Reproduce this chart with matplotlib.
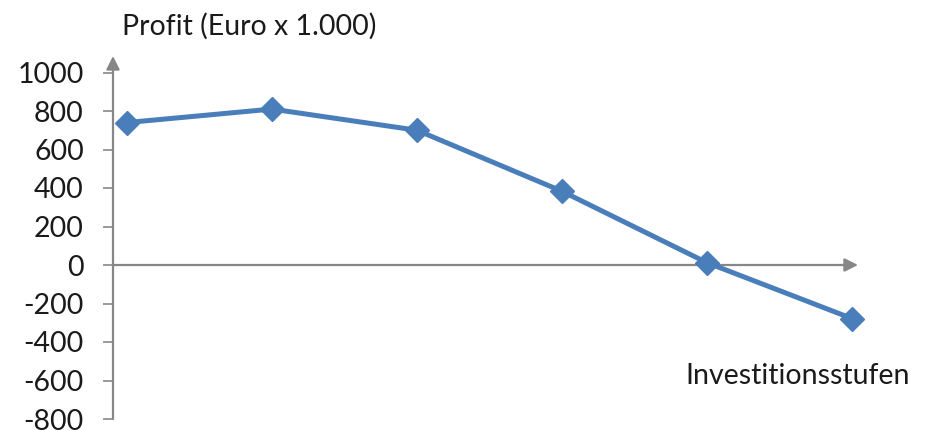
import matplotlib
matplotlib.use("Agg")
import matplotlib.pyplot as plt

# investment levels and profit in thousand euro
stufen = [1, 2, 3, 4, 5, 6]
profit = [740, 810, 700, 383, 12, -278]
yticks = [-800, -600, -400, -200, 0, 200, 400, 600, 800, 1000]

plt.rcParams['font.family'] = ['Lato', 'DejaVu Sans']

W, H = 929, 430
fig = plt.figure(figsize=(W / 100, H / 100), dpi=100)

# pixel frame of the axes
left_px, right_px, top_px, bot_px = 113, 880, 40, 425
ax = fig.add_axes([left_px / W, 1 - bot_px / H,
                   (right_px - left_px) / W, (bot_px - top_px) / H])

# data <-> pixel scale: x=1 at 127 px, 145 px per step; 0 at 265 px, 38.5 px per 200
def x_of(px):
    return 1 + (px - 127) / 145

def y_of(px):
    return (265 - px) / 38.5 * 200

ax.set_xlim(x_of(left_px), x_of(right_px))
ax.set_ylim(y_of(bot_px), y_of(top_px))

for s in ax.spines.values():
    s.set_visible(False)

grey = '#878787'
x0 = x_of(left_px)

# y axis with arrow
ax.annotate('', xy=(x0, y_of(56)), xytext=(x0, yticks[0]),
            arrowprops=dict(arrowstyle='-|>', color=grey, lw=1.6,
                            mutation_scale=20, shrinkA=0, shrinkB=0),
            annotation_clip=False)
# x axis with arrow at zero
ax.annotate('', xy=(x_of(858), 0), xytext=(x0, 0),
            arrowprops=dict(arrowstyle='-|>', color=grey, lw=1.6,
                            mutation_scale=20, shrinkA=0, shrinkB=0),
            annotation_clip=False)

ax.set_yticks(yticks)
ax.set_yticklabels([str(v) for v in yticks])
ax.tick_params(axis='y', length=7, width=1.2, color=grey, labelsize=20.5,
               pad=14, labelcolor='#1a1a1a')
ax.set_xticks([])

ax.plot(stufen, profit, color='#4a7ebb', lw=3.6, marker='D', markersize=12,
        solid_capstyle='round', zorder=3, clip_on=False)

fig.text(122 / W, 1 - 26 / H, 'Profit (Euro x 1.000)', fontsize=20.5,
         va='center', ha='left', color='#1a1a1a')
fig.text(685 / W, 1 - 376 / H, 'Investitionsstufen', fontsize=20.5,
         va='center', ha='left', color='#1a1a1a')

fig.savefig('out.png', dpi=100)
